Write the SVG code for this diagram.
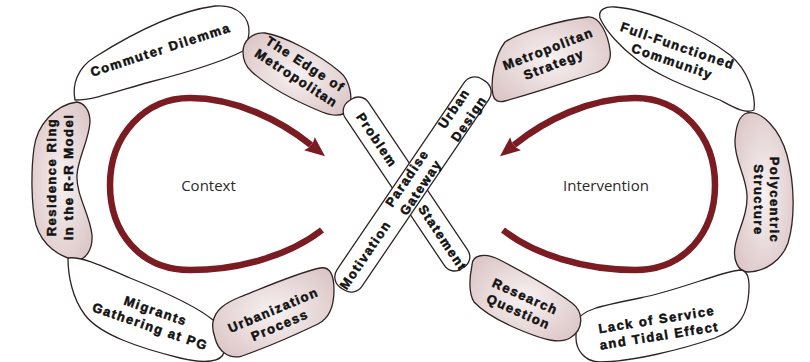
<svg xmlns="http://www.w3.org/2000/svg" width="810" height="362" viewBox="0 0 810 362">
<defs>
<radialGradient id="pink" cx="50%" cy="50%" r="65%">
<stop offset="0" stop-color="#f7f1f1"/>
<stop offset="1" stop-color="#dbc4c5"/>
</radialGradient>
<marker id="ah" markerUnits="userSpaceOnUse" markerWidth="30" markerHeight="30" refX="0" refY="0" orient="auto" overflow="visible">
<path d="M18,0 L-2,-8.5 L0,-3.3 L0,3.3 L-2,8.5 Z" fill="#7b1c22"/>
</marker>
<style>
.blob{stroke:#2f2424;stroke-width:1.3;stroke-linejoin:round}
.w{fill:#fff}
.p{fill:url(#pink)}
.lbl{font-family:"Liberation Sans",Arial,sans-serif;font-weight:700;font-size:13px;letter-spacing:1.5px;fill:#111;stroke:#111;stroke-width:0.5px;text-anchor:middle}
.cap{font-family:"Open Sans",sans-serif;font-size:15px;fill:#2a2a2a;text-anchor:middle}
.arrow{fill:none;stroke:#7b1c22;stroke-width:6.5;marker-end:url(#ah)}
</style>
</defs>
<rect width="810" height="362" fill="#fff"/>

<g id="commuter-dilemma">
<path class="blob w" d="M75,100 C72,85 77,68 95,57 C125,38 170,12 215,6 C238,4 250,18 249,33 C248,43 245,48 243,51 C220,63 185,73 150,82 C120,90 95,100 75,100 Z"/>
<text class="lbl" transform="translate(162,54) rotate(-18)" x="0" y="0">Commuter Dilemma</text>
</g>

<g id="edge-of-metropolitan">
<path class="blob p" d="M243,52 C243,41 252,32 265,33 C285,36 320,55 340,72 C350,80 354,100 348,110 C343,117 332,116 322,112 C300,103 270,88 252,72 C245,66 243,58 243,52 Z"/>
<text class="lbl" transform="translate(301,71) rotate(33)"><tspan x="0" y="-3.6">The Edge of</tspan><tspan x="0" y="12.9">Metropolitan</tspan></text>
</g>

<g id="residence-ring">
<path class="blob p" d="M77,102 C84,103 90,110 90,122 C89,140 78,158 77,175 C76,195 90,215 92,235 C93,250 85,260 77,260 C60,258 42,245 36,225 C31,205 31,170 34,148 C37,125 55,105 77,102 Z"/>
<text class="lbl" transform="translate(60,177) rotate(-90)"><tspan x="0" y="-3.6">Residence Ring</tspan><tspan x="0" y="12.9">in the R-R Model</tspan></text>
</g>

<g id="migrants-gathering">
<path class="blob w" d="M68,258 C80,256 100,265 130,278 C160,290 195,305 213,320 C222,328 226,340 224,352 C222,362 205,364 180,358 C140,348 100,335 85,315 C72,298 68,275 68,258 Z"/>
<text class="lbl" transform="translate(153,318.5) rotate(19)"><tspan x="0" y="-3.6">Migrants</tspan><tspan x="0" y="12.9">Gathering at PG</tspan></text>
</g>

<g id="urbanization-process">
<path class="blob p" d="M213,322 C215,310 225,303 240,297 C265,287 300,272 320,268 C330,266 334,275 334,290 C334,305 330,318 318,324 C295,335 265,348 242,356 C228,360 218,350 215,338 C213,332 212,327 213,322 Z"/>
<text class="lbl" transform="translate(276.5,317.5) rotate(-23)"><tspan x="0" y="-3.6">Urbanization</tspan><tspan x="0" y="12.9">Process</tspan></text>
</g>

<g id="problem-statement">
<rect class="blob w" x="-101" y="-14" width="202" height="28" rx="12" transform="translate(406.5,184) rotate(56.1)"/>
<text class="lbl" transform="translate(406.5,184) rotate(56.1)"><tspan x="-53" y="4.6">Problem</tspan><tspan x="65" y="4.6">Statement</tspan></text>
</g>

<g id="motivation-urban-design">
<rect class="blob w" x="-126" y="-15" width="252" height="30" rx="13" transform="translate(413,184.5) rotate(-55.8)"/>
<text class="lbl" transform="translate(413,184.5) rotate(-55.8)"><tspan x="-85" y="4.6">Motivation</tspan><tspan x="86" y="-4.4">Urban</tspan><tspan x="86" y="13.6">Design</tspan></text>
</g>

<g id="paradise-gateway">
<text class="lbl" transform="translate(413,184.5) rotate(-55.8)"><tspan x="2" y="-4.1">Paradise</tspan><tspan x="2" y="12.4">Gateway</tspan></text>
</g>

<g id="metropolitan-strategy">
<path class="blob p" d="M493,95 C490,80 495,55 505,42 C520,32 560,20 588,17 C600,16 608,35 610,50 C612,62 605,70 595,73 C570,81 535,93 505,101 C498,103 494,100 493,95 Z"/>
<text class="lbl" transform="translate(551,56.5) rotate(-21)"><tspan x="0" y="-3.6">Metropolitan</tspan><tspan x="0" y="12.9">Strategy</tspan></text>
</g>

<g id="full-functioned-community">
<path class="blob w" d="M600,18 C598,10 605,6 615,7 C650,10 700,32 730,55 C748,70 756,95 754,110 C745,114 735,108 720,100 C690,88 655,75 635,58 C622,48 606,32 600,18 Z"/>
<text class="lbl" transform="translate(675,53.5) rotate(19)"><tspan x="0" y="-3.6">Full-Functioned</tspan><tspan x="0" y="12.9">Community</tspan></text>
</g>

<g id="polycentric-structure">
<path class="blob p" d="M747,113 C762,110 780,130 787,155 C795,185 795,220 788,243 C782,260 765,272 748,272 C738,272 733,260 735,247 C737,232 748,215 747,195 C746,175 734,160 735,140 C736,125 740,115 747,113 Z"/>
<text class="lbl" transform="translate(766.5,200) rotate(90)"><tspan x="0" y="-3.6">Polycentric</tspan><tspan x="0" y="12.9">Structure</tspan></text>
</g>

<g id="lack-of-service">
<path class="blob w" d="M577,322 C580,310 600,306 640,298 C680,290 720,272 740,270 C750,270 750,285 748,300 C745,320 735,330 715,338 C680,350 630,362 600,362 C585,362 576,350 576,338 C576,330 576,326 577,322 Z"/>
<text class="lbl" transform="translate(658,327.5) rotate(-9)"><tspan x="0" y="-3.6">Lack of Service</tspan><tspan x="0" y="12.9">and Tidal Effect</tspan></text>
</g>

<g id="research-question">
<path class="blob p" d="M472,265 C472,255 485,252 500,260 C525,273 555,290 572,303 C584,312 584,330 570,338 C560,344 545,340 525,332 C505,324 485,314 474,302 C468,292 470,275 472,265 Z"/>
<text class="lbl" transform="translate(522,304) rotate(24)"><tspan x="0" y="-3.6">Research</tspan><tspan x="0" y="12.9">Question</tspan></text>
</g>

<g id="context">
<text class="cap" x="208.5" y="191">Context</text>
</g>
<g id="intervention">
<text class="cap" x="606" y="191">Intervention</text>
</g>

<g id="connectors">
<path class="arrow" d="M322,230 C290,255 240,270 190,270 C140,270 110,232 110,185 C110,135 145,98 190,98 C235,98 280,120 311,145"/>
<path class="arrow" d="M503,230 C535,255 585,270 635,270 C685,270 715,232 715,185 C715,135 680,98 635,98 C590,98 545,120 514,145"/>
</g>
</svg>
